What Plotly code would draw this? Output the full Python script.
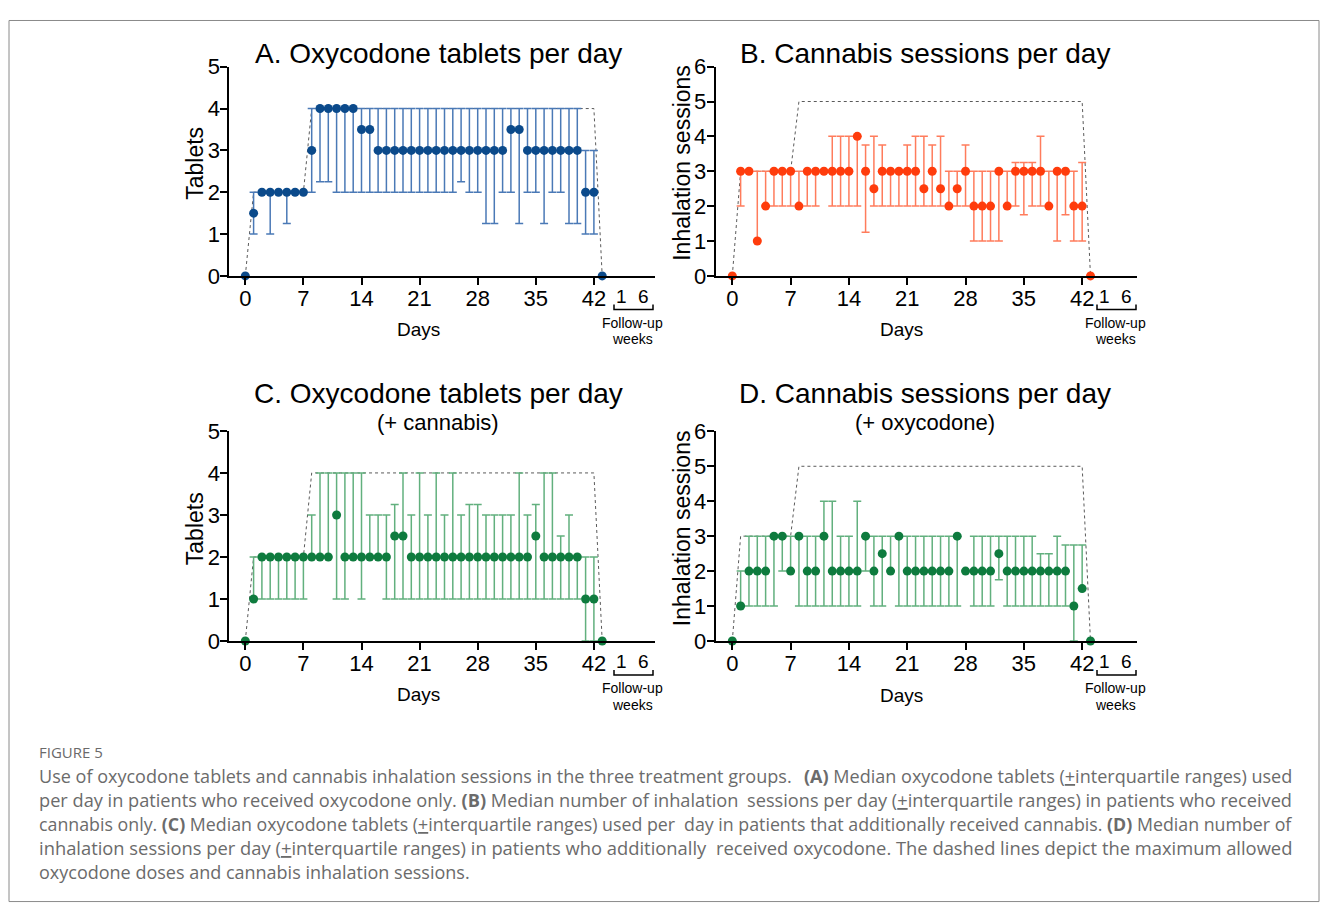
import plotly.graph_objects as go

# Figure placement: page offset and observed vertical scale of the page shot
OX = 8
OY, SY = 19.0, 0.974
FW, FH = 1312, 906

# ---------------- data ----------------
days = list(range(44))
x_ticks = [0, 7, 14, 21, 28, 35, 42]
followup_weeks = ["1", "6"]

max_days = [0, 1, 7, 8, 42, 43]
max_tablets = [0, 2, 2, 4, 4, 0]
max_sessions = [0, 3, 3, 5, 5, 0]

# A. Oxycodone tablets per day (oxycodone only)
a_med = [0, 1.5, 2, 2, 2, 2, 2, 2, 3, 4, 4, 4, 4, 4, 3.5, 3.5,
         3, 3, 3, 3, 3, 3, 3, 3, 3, 3, 3, 3, 3, 3, 3, 3, 3.5, 3.5,
         3, 3, 3, 3, 3, 3, 3, 2, 2, 0]
a_q1 = [0, 1, 2, 1, 2, 1.25, 2, 2, 2, 2.25, 2.25, 2, 2, 2, 2, 2,
        2, 2, 2, 2, 2, 2, 2, 2, 2, 2, 2.25, 2, 2, 1.25, 1.25, 2, 2, 1.25,
        2, 2, 1.25, 2, 2, 1.25, 1.25, 1, 1, 0]
a_q3 = [0, 2, 2, 2, 2, 2, 2, 2, 4, 4, 4, 4, 4, 4, 4, 4,
        4, 4, 4, 4, 4, 4, 4, 4, 4, 4, 4, 4, 4, 4, 4, 4, 4, 4,
        4, 4, 4, 4, 4, 4, 4, 3, 3, 0]

# B. Cannabis sessions per day (cannabis only)
b_med = [0, 3, 3, 1, 2, 3, 3, 3, 2, 3, 3, 3, 3, 3, 3, 4, 3, 2.5, 3, 3,
         3, 3, 3, 2.5, 3, 2.5, 2, 2.5, 3, 2, 2, 2, 3, 2, 3, 3, 3, 3, 2,
         3, 3, 2, 2, 0]
b_q1 = [0, 2, 3, 1, 2, 2, 2, 2, 2, 2, 2, 3, 2, 2, 2, 2, 1.25, 2, 2, 2,
        2, 2, 2, 2, 2, 2, 2, 2, 2, 1, 1, 1, 1, 2, 2, 1.75, 2, 2, 2,
        1, 1.75, 1, 1, 0]
b_q3 = [0, 3, 3, 3, 3, 3, 3, 3, 3, 3, 3, 3, 4, 4, 4, 4, 3.75, 4, 3.75, 3,
        3, 3.75, 4, 4, 3.75, 4, 3, 3, 3.75, 3, 3, 3, 3, 3, 3.25, 3.25, 3.25, 4, 3,
        3, 3, 3, 3.25, 0]

# C. Oxycodone tablets per day (+ cannabis)
c_med = [0, 1, 2, 2, 2, 2, 2, 2, 2, 2, 2, 3, 2, 2, 2, 2, 2, 2, 2.5, 2.5,
         2, 2, 2, 2, 2, 2, 2, 2, 2, 2, 2, 2, 2, 2, 2, 2.5, 2, 2, 2, 2, 2,
         1, 1, 0]
c_q1 = [0, 1, 1, 1, 1, 1, 1, 1, 2, 2, 2, 1, 1, 2, 1, 2, 2, 1, 1, 1,
        1, 1, 1, 1, 1, 1, 1, 1, 1, 1, 1, 1, 1, 1, 1, 1, 1, 1, 1, 1, 1,
        0, 0, 0]
c_q3 = [0, 2, 2, 2, 2, 2, 2, 2, 3, 4, 4, 4, 4, 4, 4, 3, 3, 3, 3.25, 4,
        3, 4, 3, 4, 3, 4, 3, 3.25, 3.25, 3, 3, 3, 3, 4, 3, 3.25, 4, 4, 2.5, 3, 2,
        2, 2, 0]

# D. Cannabis sessions per day (+ oxycodone)
d_med = [0, 1, 2, 2, 2, 3, 3, 2, 3, 2, 2, 3, 2, 2, 2, 2, 3, 2, 2.5, 2,
         3, 2, 2, 2, 2, 2, 2, 3, 2, 2, 2, 2, 2.5, 2, 2, 2, 2, 2, 2, 2, 2,
         1, 1.5, 0]
d_q1 = [0, 1, 1, 1, 1, 1, 2, 2, 1, 1, 1, 1, 1, 1, 1, 1, 2, 1, 1, 2,
        1, 1, 1, 1, 1, 1, 1, 1, 2, 1, 1, 1, 1.75, 1, 1, 1, 1, 1, 1, 1, 1,
        0, 1.5, 0]
d_q3 = [0, 2, 3, 3, 3, 3, 3, 3, 3, 3, 3, 4, 4, 3, 3, 4, 3, 3, 3, 3,
        3, 3, 3, 3, 3, 3, 3, 3, 2, 3, 3, 3, 3, 3, 3, 3, 3, 2.5, 2.5, 3, 2.75,
        2.75, 2.75, 0]

caption_lines = [
    ("Use of oxycodone tablets and cannabis inhalation sessions in the three treatment groups.",
     "<b>(A)</b> Median oxycodone tablets (<u>+</u>interquartile ranges) used"),
    ("per day in patients who received oxycodone only. <b>(B)</b> Median number of inhalation",
     "sessions per day (<u>+</u>interquartile ranges) in patients who received"),
    ("cannabis only. <b>(C)</b> Median oxycodone tablets (<u>+</u>interquartile ranges) used per",
     "day in patients that additionally received cannabis. <b>(D)</b> Median number of"),
    ("inhalation sessions per day (<u>+</u>interquartile ranges) in patients who additionally",
     "received oxycodone. The dashed lines depict the maximum allowed"),
    ("oxycodone doses and cannabis inhalation sessions.", ""),
]
caption_sizes = [18.05, 18.2, 17.8, 18.35, 18.0]

# ---------------- styling ----------------
FONT = "Liberation Sans, Arial, Helvetica, sans-serif"
CAP = "Open Sans, Lato, sans-serif"
BLUE, BLUE_BAR = "#0b4a8b", "#4a79b6"
ORANGE, ORANGE_BAR = "#ff3c0c", "#ff7c5c"
GREEN, GREEN_BAR = "#0e7b3e", "#62b07e"


def px(x):
    return (x - OX) / FW


def py(y):
    return 1 - ((y - OY) / SY) / FH


panels = [
    # med, q1, q3, max series, colour, bar colour, left px, right px, top px, bottom px, ymax, day0 px, px/day
    (a_med, a_q1, a_q3, max_tablets, BLUE, BLUE_BAR, 229.3, 655, 65.8, 275.3, 5, 245.3, 8.3),
    (b_med, b_q1, b_q3, max_sessions, ORANGE, ORANGE_BAR, 715.7, 1137, 65.7, 275.3, 6, 732.3, 8.33),
    (c_med, c_q1, c_q3, max_tablets, GREEN, GREEN_BAR, 229.3, 655, 430.6, 641.0, 5, 245.3, 8.3),
    (d_med, d_q1, d_q3, max_sessions, GREEN, GREEN_BAR, 715.7, 1137, 431.0, 641.0, 6, 732.3, 8.33),
]

fig = go.Figure()
layout = {}
for i, (med, q1, q3, mx, col, bcol, L, R, T, B, ymax, d0, ppd) in enumerate(panels):
    k = "" if i == 0 else str(i + 1)
    xa, ya = "x" + k, "y" + k
    fig.add_trace(go.Scatter(
        x=max_days, y=mx, xaxis=xa, yaxis=ya, mode="lines",
        line=dict(color="#5a5a5a", width=1, dash="dot"),
        hoverinfo="skip", showlegend=False, cliponaxis=False))
    fig.add_trace(go.Scatter(
        x=days, y=med, xaxis=xa, yaxis=ya, mode="markers",
        marker=dict(color=col, size=9, line=dict(width=0)),
        error_y=dict(type="data", symmetric=False,
                     array=[b - m for b, m in zip(q3, med)],
                     arrayminus=[m - a for m, a in zip(med, q1)],
                     color=bcol, thickness=1.5, width=4),
        showlegend=False, cliponaxis=False))
    xmin = (L - d0) / ppd
    xmax = (R - d0) / ppd
    layout["xaxis" + k] = dict(
        domain=[px(L), px(R)], range=[xmin, xmax], anchor=ya,
        showline=True, linecolor="black", linewidth=2,
        ticks="outside", ticklen=7, tickwidth=2, tickcolor="black",
        tickvals=x_ticks, tickfont=dict(size=22, family=FONT, color="black"),
        ticklabelstandoff=-5,
        showgrid=False, zeroline=False, fixedrange=True)
    layout["yaxis" + k] = dict(
        domain=[py(B), py(T)], range=[0, ymax], anchor=xa,
        showline=True, linecolor="black", linewidth=2,
        ticks="outside", ticklen=7, tickwidth=2, tickcolor="black",
        tickvals=list(range(ymax + 1)), tickfont=dict(size=22, family=FONT, color="black"),
        ticklabelstandoff=-4,
        showgrid=False, zeroline=False, fixedrange=True)

ann = []
shapes = []


def text(x, y, s, size, color="black", xanchor="center", angle=0, family=FONT):
    ann.append(dict(xref="paper", yref="paper", x=px(x), y=py(y), text=s,
                    showarrow=False, xanchor=xanchor, yanchor="middle",
                    textangle=angle, font=dict(size=size, color=color, family=family)))


# titles
text(438, 53, "A. Oxycodone tablets per day", 28)
text(925, 53, "B. Cannabis sessions per day", 28)
text(438, 393, "C. Oxycodone tablets per day", 28)
text(438, 422, "(+ cannabis)", 22)
text(925, 393, "D. Cannabis sessions per day", 28)
text(925, 422, "(+ oxycodone)", 22)

# axis titles
text(195, 162, "Tablets", 23, angle=-90)
text(195, 528, "Tablets", 23, angle=-90)
text(682, 162, "Inhalation sessions", 23, angle=-90)
text(682, 528, "Inhalation sessions", 23, angle=-90)
text(419, 329, "Days", 19)
text(901, 329, "Days", 19)
text(419, 695, "Days", 19)
text(901, 696, "Days", 19)

# follow-up brackets
for (cx, ty) in [(632, 296), (1115, 296), (632, 662), (1115, 662)]:
    text(cx - 11, ty, followup_weeks[0], 19)
    text(cx + 11, ty, followup_weeks[1], 19)
    by = ty + 13
    shapes.append(dict(type="path", xref="paper", yref="paper",
                       path=f"M {px(cx-18)} {py(by-5)} L {px(cx-18)} {py(by)} L {px(cx+21)} {py(by)} L {px(cx+21)} {py(by-5)}",
                       line=dict(color="black", width=1.5)))
    text(cx, ty + 26, "Follow-up", 14)
    text(cx, ty + 43, "weeks", 14)

# caption
text(37, 752, "FIGURE 5", 15, color="#6a6a6a", xanchor="left", family=CAP)
for j, (left, right) in enumerate(caption_lines):
    y = 776 + 24 * j
    sz = caption_sizes[j]
    text(37, y, left, sz, color="#6b6b6b", xanchor="left", family=CAP)
    if right:
        text(1294, y, right, sz, color="#6b6b6b", xanchor="right", family=CAP)

# frame
shapes.append(dict(type="path", xref="paper", yref="paper",
                   path=f"M {px(9)} {py(902)} L {px(9)} {1 - 0.5 / FH} L {px(1319)} {1 - 0.5 / FH} L {px(1319)} {py(902)} Z",
                   line=dict(color="#8a8a8a", width=1)))

fig.update_layout(
    width=FW, height=FH, margin=dict(l=0, r=0, t=0, b=0),
    paper_bgcolor="white", plot_bgcolor="white",
    annotations=ann, shapes=shapes, showlegend=False, **layout)

fig.write_html("out.html")
